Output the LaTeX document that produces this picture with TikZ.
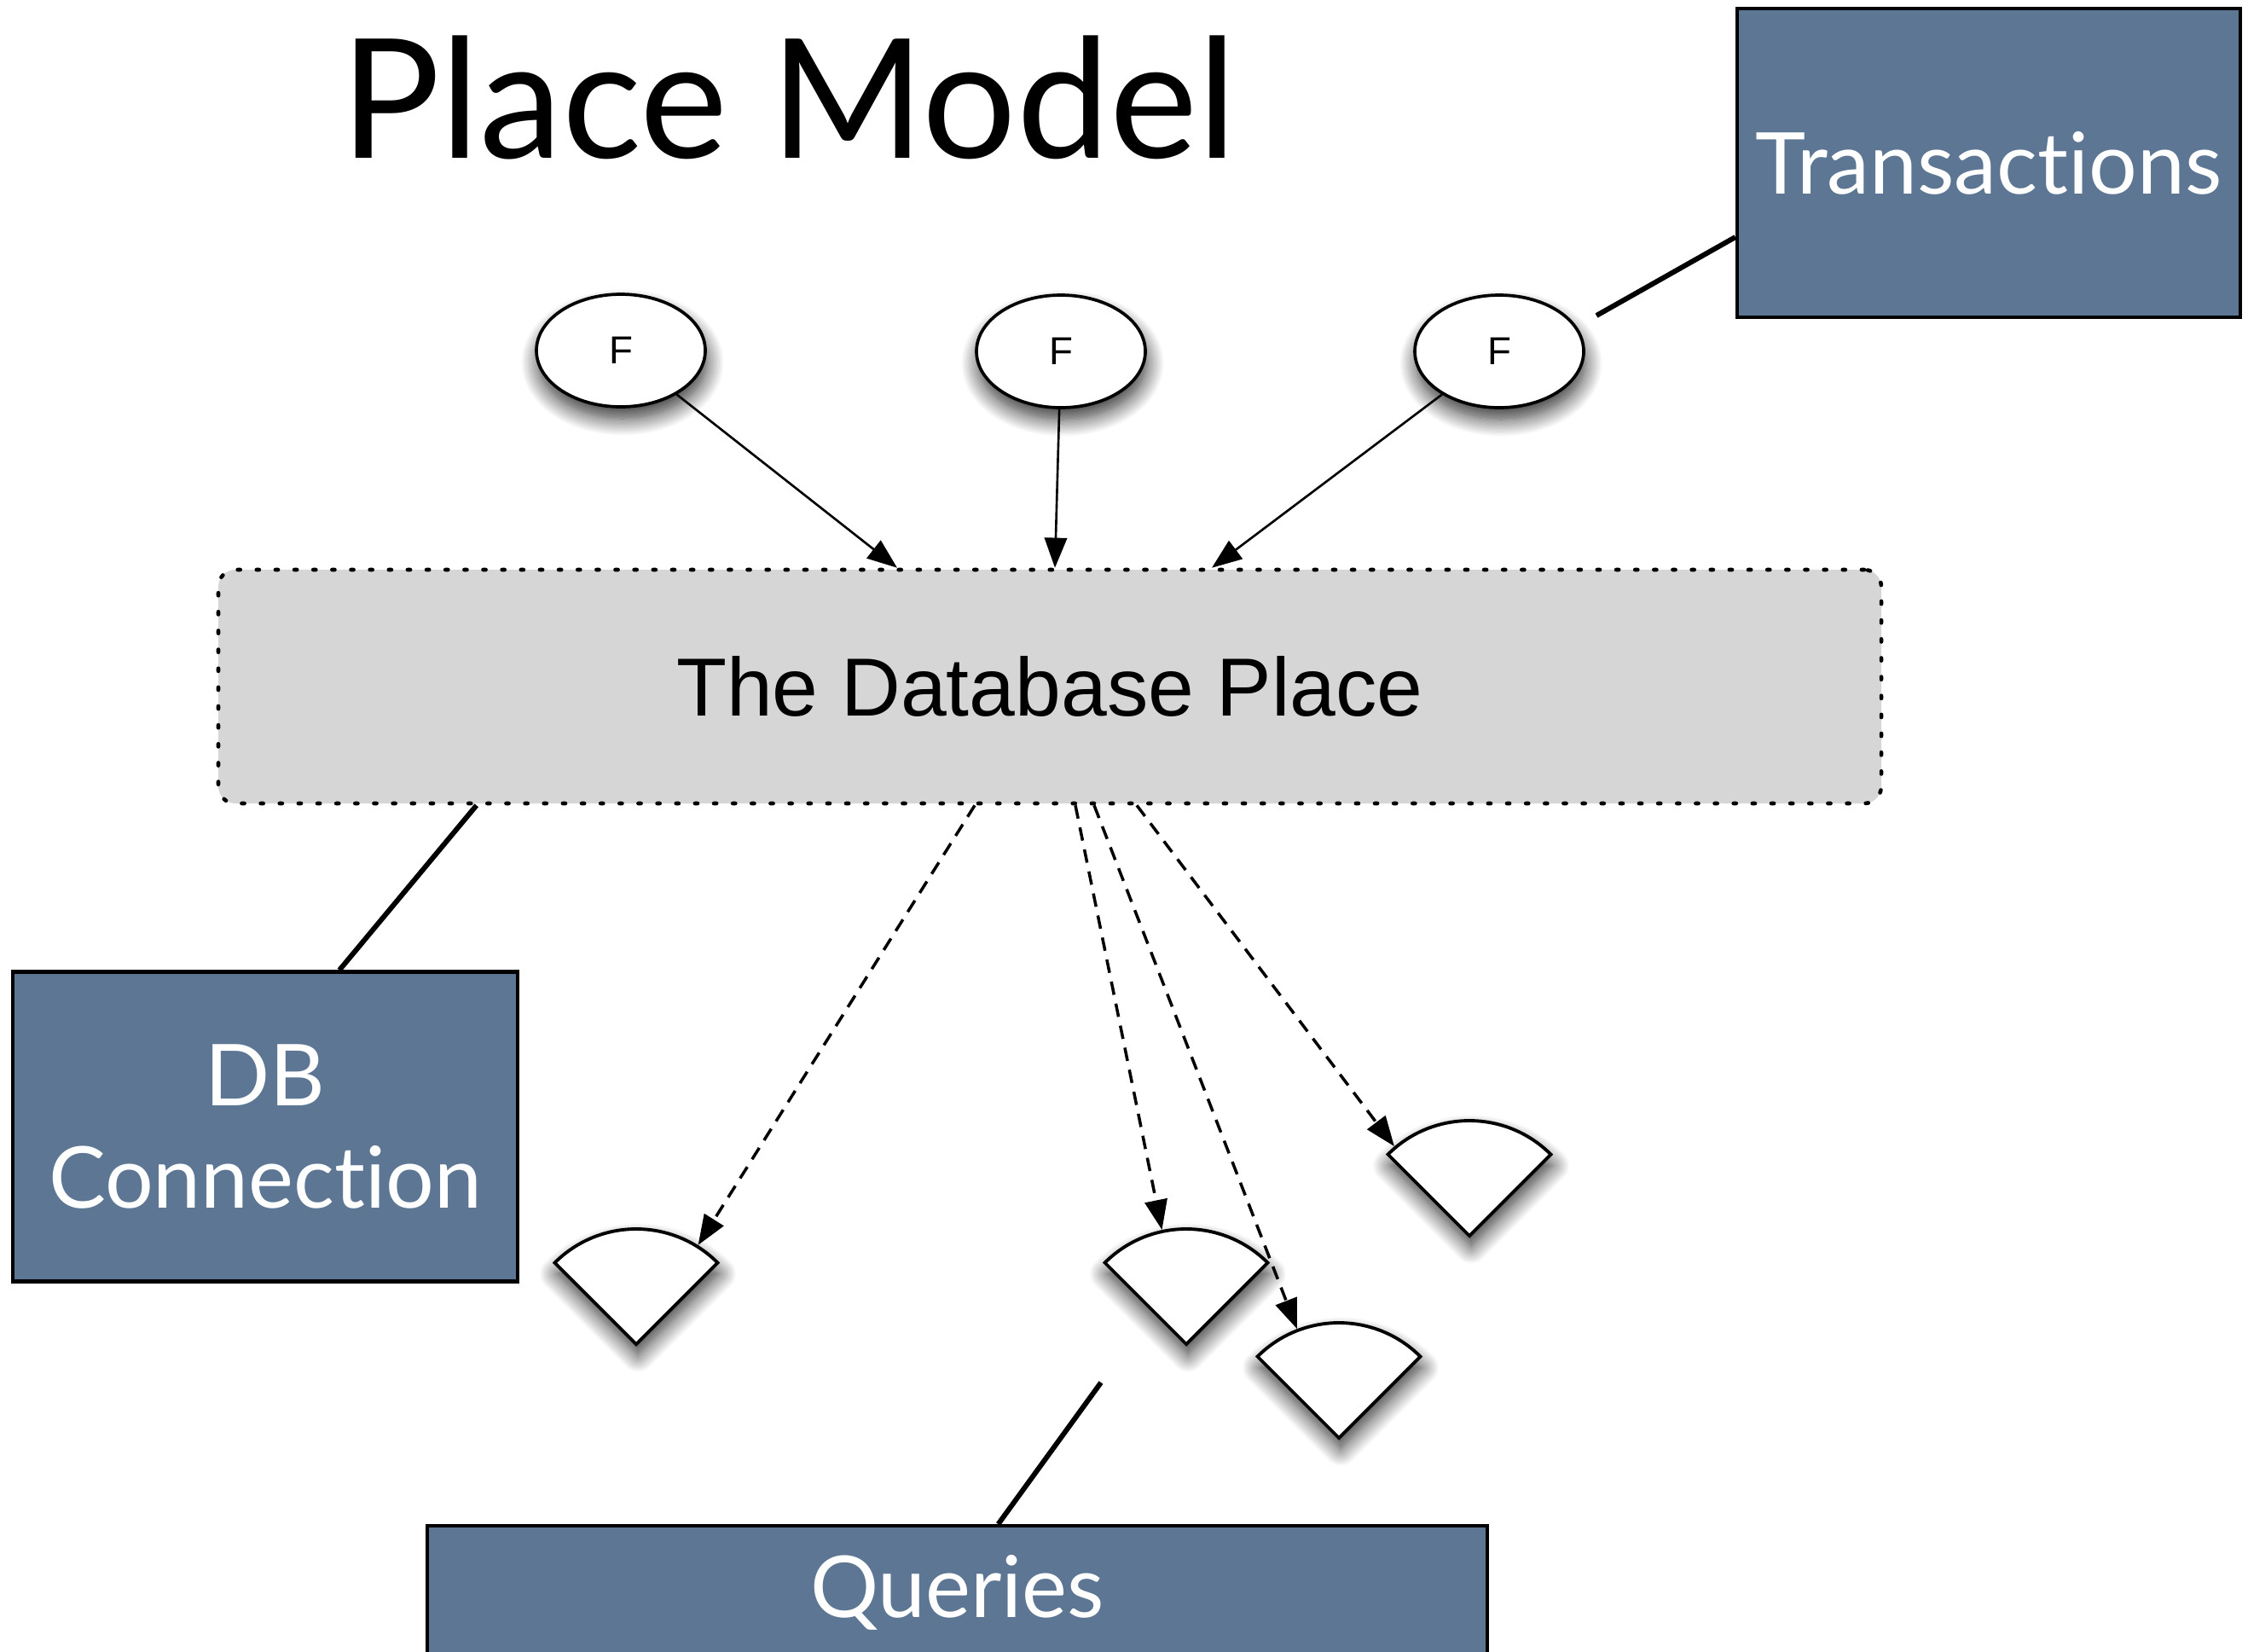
\documentclass[tikz,border=0pt]{standalone}
\usepackage{fontspec}
\setmainfont{Liberation Sans}
\newfontfamily\gill[Ligatures=NoCommon]{Lato}
\usetikzlibrary{shapes.geometric, arrows.meta, calc, shadows.blur}
\definecolor{slate}{RGB}{92,118,148}
\definecolor{placegray}{RGB}{214,214,214}
\tikzstyle{func} = [ellipse, minimum width=1.98cm, minimum height=1.32cm, draw=black, line width=1.05pt, fill=white, font=\fontsize{13}{15}\selectfont, blur shadow={shadow xshift=0.02cm, shadow yshift=-0.14cm, shadow blur radius=0.2cm, shadow blur steps=16, shadow opacity=80}]
\tikzstyle{place} = [rectangle, rounded corners=0.2cm, minimum width=19.5cm, minimum height=2.74cm, draw=black, line width=1.3pt, dash pattern=on 0.9pt off 5.4pt, line cap=round, fill=placegray, font=\fontsize{27.5}{33}\selectfont]
\tikzstyle{layer} = [rectangle, draw=black, line width=1.2pt, fill=slate, text=white, align=center, font=\gill\fontsize{28.5}{34}\selectfont]
\tikzstyle{wedge} = [draw=black, line width=1.1pt, fill=white, blur shadow={shadow xshift=0.02cm, shadow yshift=-0.13cm, shadow blur radius=0.2cm, shadow blur steps=16, shadow opacity=80}]
\tikzstyle{arrow} = [line width=0.75pt, -{Triangle[length=10pt,width=7.5pt,fill=black]}]
\tikzstyle{query arrow} = [arrow, line width=1pt, dash pattern=on 4.5pt off 3pt]
\tikzstyle{link} = [line width=1.7pt]

\begin{document}
\begin{tikzpicture}
\useasboundingbox (0,0) rectangle (26.36,-19.36);

\node (title) [anchor=base, font=\gill\fontsize{55.5}{58}\selectfont] at (9.25,-1.85) {Place Model};

% functions feeding the place
\node (f1) [func] at (7.28,-4.11) {F};
\node (f2) [func] at (12.44,-4.12) {F};
\node (f3) [func] at (17.58,-4.12) {F};

\node (db) [place] at (12.31,-8.05) {The Database Place};

\node (trans) [layer, minimum width=5.9cm, minimum height=3.62cm] at (23.32,-1.91) {Transactions};
\node (conn) [layer, minimum width=5.92cm, minimum height=3.63cm] at (3.11,-13.21) {DB\\Connection};
\node (query) [layer, minimum width=12.43cm, minimum height=1.56cm, anchor=north] at (11.225,-17.87) {Queries};

% query results
\foreach \n/\x/\y/\a in {1/7.46/-15.76/58, 2/13.91/-15.76/102, 3/15.70/-16.86/111, 4/17.23/-14.49/130}
{
  \coordinate (q\n) at (\x,\y);
  \coordinate (tip\n) at ($(q\n)+(\a:1.37)$);
}
\foreach \n in {1,...,4}
  \draw [wedge] (q\n) -- ++(135:1.35) arc [start angle=135, end angle=45, radius=1.35] -- cycle;

\draw [arrow] (f1) -- ([xshift=-1.79cm]db.north);
\draw [arrow] (f2) -- ([xshift=0.06cm]db.north);
\draw [arrow] (f3) -- ([xshift=1.90cm]db.north);

\draw [query arrow] ([xshift=-0.88cm]db.south) -- (tip1);
\draw [query arrow] ([xshift=0.30cm]db.south) -- (tip2);
\draw [query arrow] ([xshift=0.52cm]db.south) -- (tip3);
\draw [query arrow] ([xshift=1.02cm]db.south) -- (tip4);

\coordinate (tstub) at (18.72,-3.70);
\coordinate (qstub) at (12.91,-16.21);
\draw [link] ([xshift=3.05cm]db.south west) -- ([xshift=0.87cm]conn.north);
\draw [link] (tstub) -- ([yshift=-0.87cm]trans.west);
\draw [link] (qstub) -- ([xshift=0.48cm]query.north);
\end{tikzpicture}
\end{document}
